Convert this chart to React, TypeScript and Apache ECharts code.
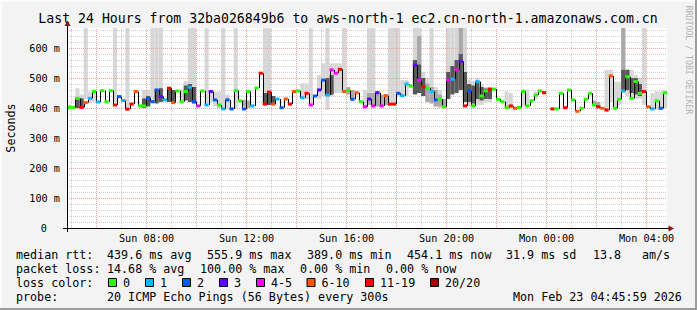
import React, { useEffect, useRef } from 'react';
import * as echarts from 'echarts';

// ---------- texts ----------
const titleText = 'Last 24 Hours from 32ba026849b6 to aws-north-1 ec2.cn-north-1.amazonaws.com.cn';
const yAxisName = 'Seconds';
const sideText = 'RRDTOOL / TOBI OETIKER';

// ---------- axes ----------
const xMinMinute = 289; // Sun 04:49
const xMaxMinute = 1729; // Mon 04:49
const xLabelMinutes = [480, 720, 960, 1200, 1440, 1680];
const yMax = 666.67;

// ---------- data (10-minute slots starting Sun 04:49) ----------
const slotStart = 289;
const slotMinutes = 10;

const median: (number | null)[] = [
  402, 402, 432, 402, 418, 432, 455, 420, 458, 421, 458, 410,
  438, 425, 396, 413, 455, 407, 407, 432, 421, 460, 438, 427,
  466, 418, 457, 421, 455, 469, 421, 407, 457, 410, 455, 427,
  410, 397, 427, 397, 458, 424, 397, 455, 407, 467, 516, 413,
  453, 413, 430, 401, 430, 413, 455, 457, 434, 449, 410, 440,
  460, 493, 443, 527, 516, 529, 455, 458, 429, 451, 421, 404,
  430, 407, 451, 407, 441, 413, 413, 449, 441, 480, 473, 543,
  493, 471, 466, 455, 427, 430, 404, 493, 496, 527, 556, 407,
  457, 407, 488, 440, 457, 463, 463, 429, 421, 401, 407, 399,
  402, 455, 407, 424, 443, 457, 451, null, 397, 397, 449, 401,
  460, 427, 389, 399, 429, 449, 410, 404, 399, 393, 507, 399,
  429, 457, 504, 432, 488, 449, 455, 404, 397, 424, 399, 451,
];

// loss bucket index: 0="0",1="1",2="2",3="3",4="4-5",5="6-10",6="11-19",7="20/20"
const lossBucket: number[] = [
  0, 0, 0, 6, 5, 1, 0, 1, 0, 0, 0, 6,
  2, 1, 6, 6, 5, 0, 0, 2, 2, 2, 3, 1,
  6, 5, 0, 0, 0, 1, 2, 4, 0, 1, 3, 2,
  0, 1, 2, 2, 0, 0, 2, 0, 1, 0, 6, 6,
  6, 5, 1, 2, 5, 6, 5, 0, 1, 6, 4, 2,
  3, 2, 1, 4, 4, 6, 5, 0, 2, 5, 0, 4,
  3, 4, 3, 4, 5, 6, 6, 2, 1, 1, 0, 3,
  4, 6, 0, 1, 2, 0, 0, 4, 1, 4, 3, 6,
  2, 0, 1, 0, 0, 6, 0, 0, 0, 0, 6, 5,
  0, 0, 0, 0, 0, 0, 6, 0, 6, 0, 0, 6,
  0, 0, 5, 0, 0, 0, 0, 6, 5, 6, 5, 0,
  0, 1, 0, 0, 0, 0, 6, 5, 1, 0, 2, 0,
];

// smoke bands: [slot, low ms, high ms]
const lightSmoke: [number, number, number][] = [
  [0, 395, 412], [2, 398, 466], [3, 398, 445], [4, 430, 700], [5, 415, 455], [6, 420, 462],
  [11, 420, 700], [14, 400, 700], [18, 400, 460], [19, 405, 460], [20, 420, 700], [21, 440, 700],
  [22, 430, 700], [27, 415, 462], [28, 430, 490], [29, 440, 700], [30, 420, 700], [33, 415, 700],
  [34, 420, 460], [35, 405, 455], [36, 400, 455], [37, 400, 700], [38, 395, 445], [40, 400, 700],
  [47, 410, 700], [48, 420, 700], [56, 430, 482], [57, 430, 482], [58, 410, 700], [60, 430, 510],
  [61, 440, 549], [62, 395, 700], [63, 440, 549], [64, 450, 549], [65, 450, 549], [66, 450, 700],
  [71, 400, 460], [72, 420, 700], [73, 410, 700], [77, 410, 700], [78, 410, 700], [79, 440, 700],
  [80, 435, 493], [81, 440, 493], [83, 460, 700], [84, 450, 700], [85, 440, 520], [86, 420, 500],
  [87, 430, 700], [88, 405, 470], [89, 400, 460], [91, 440, 700], [92, 460, 700], [93, 460, 700],
  [94, 470, 700], [95, 420, 700], [96, 405, 495], [97, 400, 490], [98, 410, 500], [99, 410, 480],
  [100, 420, 470], [101, 420, 470], [105, 400, 455], [106, 400, 450], [109, 405, 462], [110, 402, 462],
  [112, 430, 455], [129, 393, 527], [130, 420, 527], [131, 400, 488], [132, 410, 488], [133, 450, 700],
  [134, 440, 530], [135, 430, 527], [136, 430, 510], [137, 430, 500], [138, 410, 700], [140, 395, 449],
  [141, 395, 455], [142, 395, 455], [143, 400, 460],
];
const midSmoke: [number, number, number][] = [
  [42, 405, 427], [43, 400, 425], [67, 445, 470], [68, 430, 460], [72, 410, 450], [73, 405, 450],
  [74, 405, 455], [75, 405, 445], [76, 410, 445], [84, 450, 640], [86, 420, 482], [87, 415, 470],
  [88, 405, 460], [89, 405, 445], [90, 400, 430], [94, 480, 700], [126, 410, 425], [127, 405, 420],
  [133, 455, 700],
];
const darkSmoke: [number, number, number][] = [
  [2, 400, 432], [3, 400, 432], [18, 400, 432], [19, 405, 440], [21, 415, 460], [22, 420, 466],
  [24, 420, 466], [25, 418, 460], [28, 425, 475], [29, 420, 480], [30, 415, 470], [47, 410, 450],
  [48, 410, 455], [49, 412, 440], [62, 440, 500], [63, 445, 510], [83, 445, 560], [84, 450, 545],
  [85, 440, 500], [91, 430, 520], [92, 445, 540], [93, 450, 560], [94, 460, 580], [95, 420, 520],
  [96, 420, 480], [97, 415, 475], [98, 430, 490], [99, 425, 470], [100, 430, 465], [101, 430, 460],
  [133, 460, 527], [134, 460, 527], [135, 450, 500], [136, 445, 500], [137, 440, 480],
];

const lossLabels = ['0', '1', '2', '3', '4-5', '6-10', '11-19', '20/20'];
const lossColors = ['#26ff00', '#00b8ff', '#0059ff', '#5e00ff', '#ff00ff', '#ff5500', '#ff0000', '#a10000'];

const legendRows: [string, number][][] = [
  [['median rtt:', 16], ['439.6 ms avg', 107], ['555.9 ms max', 207], ['389.0 ms min', 307], ['454.1 ms now', 407], ['31.9 ms sd', 506], ['13.8', 593], ['am/s', 642]],
  [['packet loss:', 16], ['14.68 % avg', 107], ['100.00 % max', 200], ['0.00 % min', 300], ['0.00 % now', 386]],
  [['loss color:', 16]],
  [['probe:', 16], ['20 ICMP Echo Pings (56 Bytes) every 300s', 107], ['Mon Feb 23 04:45:59 2026', 513]],
];
const legendRowY = [255, 268.5, 282.5, 296.5];
const lossBoxX = [108.5, 145.5, 182.5, 219.5, 256.5, 307, 365.5, 430.5];

const MONO = '"DejaVu Sans Mono", "Liberation Mono", monospace';

function buildOption() {
  const slotT0 = (k: number) => slotStart + k * slotMinutes;
  const smokeData = (list: [number, number, number][]) =>
    list.map(([k, lo, hi]) => [slotT0(k), Math.min(slotT0(k + 1), xMaxMinute), lo, Math.min(hi, yMax)]);

  const smokeRender = (color: string) => (params: any, api: any) => {
    const a = api.coord([api.value(0), api.value(3)]);
    const b = api.coord([api.value(1), api.value(2)]);
    return {
      type: 'rect',
      shape: { x: a[0], y: a[1], width: b[0] - a[0], height: b[1] - a[1] },
      style: { fill: color },
    };
  };

  const medItems: number[][] = [];
  median.forEach((v, k) => {
    if (v == null) return;
    const prev = k > 0 && median[k - 1] != null ? (median[k - 1] as number) : -1;
    medItems.push([slotT0(k), Math.min(slotT0(k + 1), xMaxMinute), v, prev, lossBucket[k]]);
  });

  const gridLines: any[] = [];
  for (let m = 300; m < xMaxMinute; m += 60) {
    const major = Math.round(m / 60) % 2 === 0;
    gridLines.push({ xAxis: m, lineStyle: { color: major ? '#f0a0a0' : '#cfcfcf', type: [1, 1], width: 1 } });
  }
  for (let v = 20; v <= 660; v += 20) {
    const major = v % 100 === 0;
    gridLines.push({ yAxis: v, lineStyle: { color: major ? '#f0a0a0' : '#cfcfcf', type: [1, 1], width: 1 } });
  }

  const graphics: any[] = [];
  // frame
  graphics.push({ type: 'rect', shape: { x: 0, y: 0, width: 697, height: 2 }, style: { fill: '#fbfbfb' }, silent: true });
  graphics.push({ type: 'rect', shape: { x: 0, y: 0, width: 2, height: 310 }, style: { fill: '#fbfbfb' }, silent: true });
  graphics.push({ type: 'rect', shape: { x: 695, y: 0, width: 2, height: 310 }, style: { fill: '#9c9c9c' }, silent: true });
  graphics.push({ type: 'rect', shape: { x: 0, y: 308, width: 697, height: 2 }, style: { fill: '#9c9c9c' }, silent: true });
  // title
  graphics.push({
    type: 'text', x: 348, y: 18.5,
    style: { text: titleText, font: `13.2px ${MONO}`, fill: '#000', align: 'center', verticalAlign: 'middle', textAlign: 'center', textVerticalAlign: 'middle' },
  });
  // y axis name
  graphics.push({
    type: 'text', x: 11, y: 128, rotation: Math.PI / 2,
    style: { text: yAxisName, font: `11.7px ${MONO}`, fill: '#000', align: 'center', verticalAlign: 'middle', textAlign: 'center', textVerticalAlign: 'middle' },
  });
  // side credit
  graphics.push({
    type: 'text', x: 689, y: 60, rotation: -Math.PI / 2,
    style: { text: sideText, font: `8.2px ${MONO}`, fill: '#b4b4b4', align: 'center', verticalAlign: 'middle', textAlign: 'center', textVerticalAlign: 'middle' },
  });
  // axis lines and arrows
  graphics.push({ type: 'line', z: 20, shape: { x1: 67.5, y1: 24, x2: 67.5, y2: 232 }, style: { stroke: '#000', lineWidth: 1 } });
  graphics.push({ type: 'line', z: 20, shape: { x1: 63, y1: 228.5, x2: 670, y2: 228.5 }, style: { stroke: '#000', lineWidth: 1 } });
  graphics.push({ type: 'polygon', z: 21, shape: { points: [[67.5, 20.5], [64.5, 26], [70.5, 26]] }, style: { fill: '#8f1313' } });
  graphics.push({ type: 'polygon', z: 21, shape: { points: [[674, 228.5], [668.5, 225.5], [668.5, 231.5]] }, style: { fill: '#8f1313' } });
  // legend
  legendRows.forEach((row, r) => {
    row.forEach(([txt, x]) => {
      graphics.push({
        type: 'text', x, y: legendRowY[r],
        style: { text: txt, font: `11.7px ${MONO}`, fill: '#000', verticalAlign: 'middle', textVerticalAlign: 'middle' },
      });
    });
  });
  lossLabels.forEach((lab, i) => {
    graphics.push({
      type: 'rect', shape: { x: lossBoxX[i], y: legendRowY[2] - 4, width: 8, height: 8 },
      style: { fill: lossColors[i], stroke: '#000', lineWidth: 1 },
    });
    graphics.push({
      type: 'text', x: lossBoxX[i] + 14.5, y: legendRowY[2],
      style: { text: lab, font: `11.7px ${MONO}`, fill: '#000', verticalAlign: 'middle', textVerticalAlign: 'middle' },
    });
  });

  const dayName = (m: number) => (m < 1440 ? 'Sun' : 'Mon');
  const hhmm = (m: number) => {
    const mm = ((m % 1440) + 1440) % 1440;
    const h = Math.floor(mm / 60);
    const mi = mm % 60;
    return `${h < 10 ? '0' : ''}${h}:${mi < 10 ? '0' : ''}${mi}`;
  };

  return {
    animation: false,
    backgroundColor: '#f3f3f3',
    grid: { left: 67, right: 30, top: 28, bottom: 82, show: true, backgroundColor: '#ffffff', borderWidth: 0 },
    xAxis: {
      type: 'value', min: xMinMinute, max: xMaxMinute,
      splitLine: { show: false },
      axisLine: { show: false },
      axisTick: { show: false },
      axisLabel: {
        customValues: xLabelMinutes,
        formatter: (v: number) => `${dayName(v)} ${hhmm(v)}`,
        fontFamily: MONO, fontSize: 10.2, color: '#000', margin: 5,
      },
    },
    yAxis: {
      type: 'value', min: 0, max: yMax, interval: 100,
      splitLine: { show: false },
      axisLine: { show: false },
      axisTick: { show: false },
      axisLabel: {
        fontFamily: MONO, fontSize: 10.2, color: '#000', margin: 7,
        formatter: (v: number) => {
          if (Math.abs(v % 100) > 0.01 || v > 650) return '';
          if (v === 0) return '{z|0}';
          return `${v} m`;
        },
        rich: { z: { fontFamily: MONO, fontSize: 10.2, color: '#000', padding: [0, 13, 0, 0] } },
      },
    },
    graphic: graphics,
    series: [
      { type: 'custom', name: 'smoke-light', z: 1, silent: true, renderItem: smokeRender('#d7d7d7'), encode: { x: [0, 1], y: [2, 3] }, data: smokeData(lightSmoke) },
      {
        type: 'line', name: 'grid', data: [], z: 2, silent: true,
        markLine: { silent: true, symbol: ['none', 'none'], label: { show: false }, animation: false, z: 2, data: gridLines },
      },
      { type: 'custom', name: 'smoke-mid', z: 4, silent: true, renderItem: smokeRender('#a9a9a9'), encode: { x: [0, 1], y: [2, 3] }, data: smokeData(midSmoke) },
      { type: 'custom', name: 'smoke-dark', z: 5, silent: true, renderItem: smokeRender('#585858'), encode: { x: [0, 1], y: [2, 3] }, data: smokeData(darkSmoke) },
      {
        type: 'custom', name: 'median', z: 10, silent: true,
        encode: { x: [0, 1], y: 2 },
        data: medItems,
        renderItem: (params: any, api: any) => {
          const t0 = api.value(0), t1 = api.value(1), v = api.value(2), pv = api.value(3), ls = api.value(4);
          const a = api.coord([t0, v]);
          const b = api.coord([t1, v]);
          const children: any[] = [];
          if (pv >= 0) {
            const p = api.coord([t0, pv]);
            const x = Math.round(a[0]) + 0.5;
            children.push({ type: 'line', shape: { x1: x, y1: p[1], x2: x, y2: a[1] }, style: { stroke: '#000', lineWidth: 1 } });
          }
          children.push({ type: 'rect', shape: { x: a[0], y: a[1] - 1.5, width: b[0] - a[0], height: 3 }, style: { fill: lossColors[ls] } });
          return { type: 'group', children };
        },
      },
    ],
  };
}

export default function App() {
  const ref = useRef<HTMLDivElement>(null);
  useEffect(() => {
    const chart = echarts.init(ref.current as HTMLDivElement, null, { renderer: 'svg' });
    chart.setOption(buildOption() as any);
    return () => chart.dispose();
  }, []);
  return <div ref={ref} style={{ position: 'absolute', left: 0, top: 0, width: 697, height: 310 }} />;
}
